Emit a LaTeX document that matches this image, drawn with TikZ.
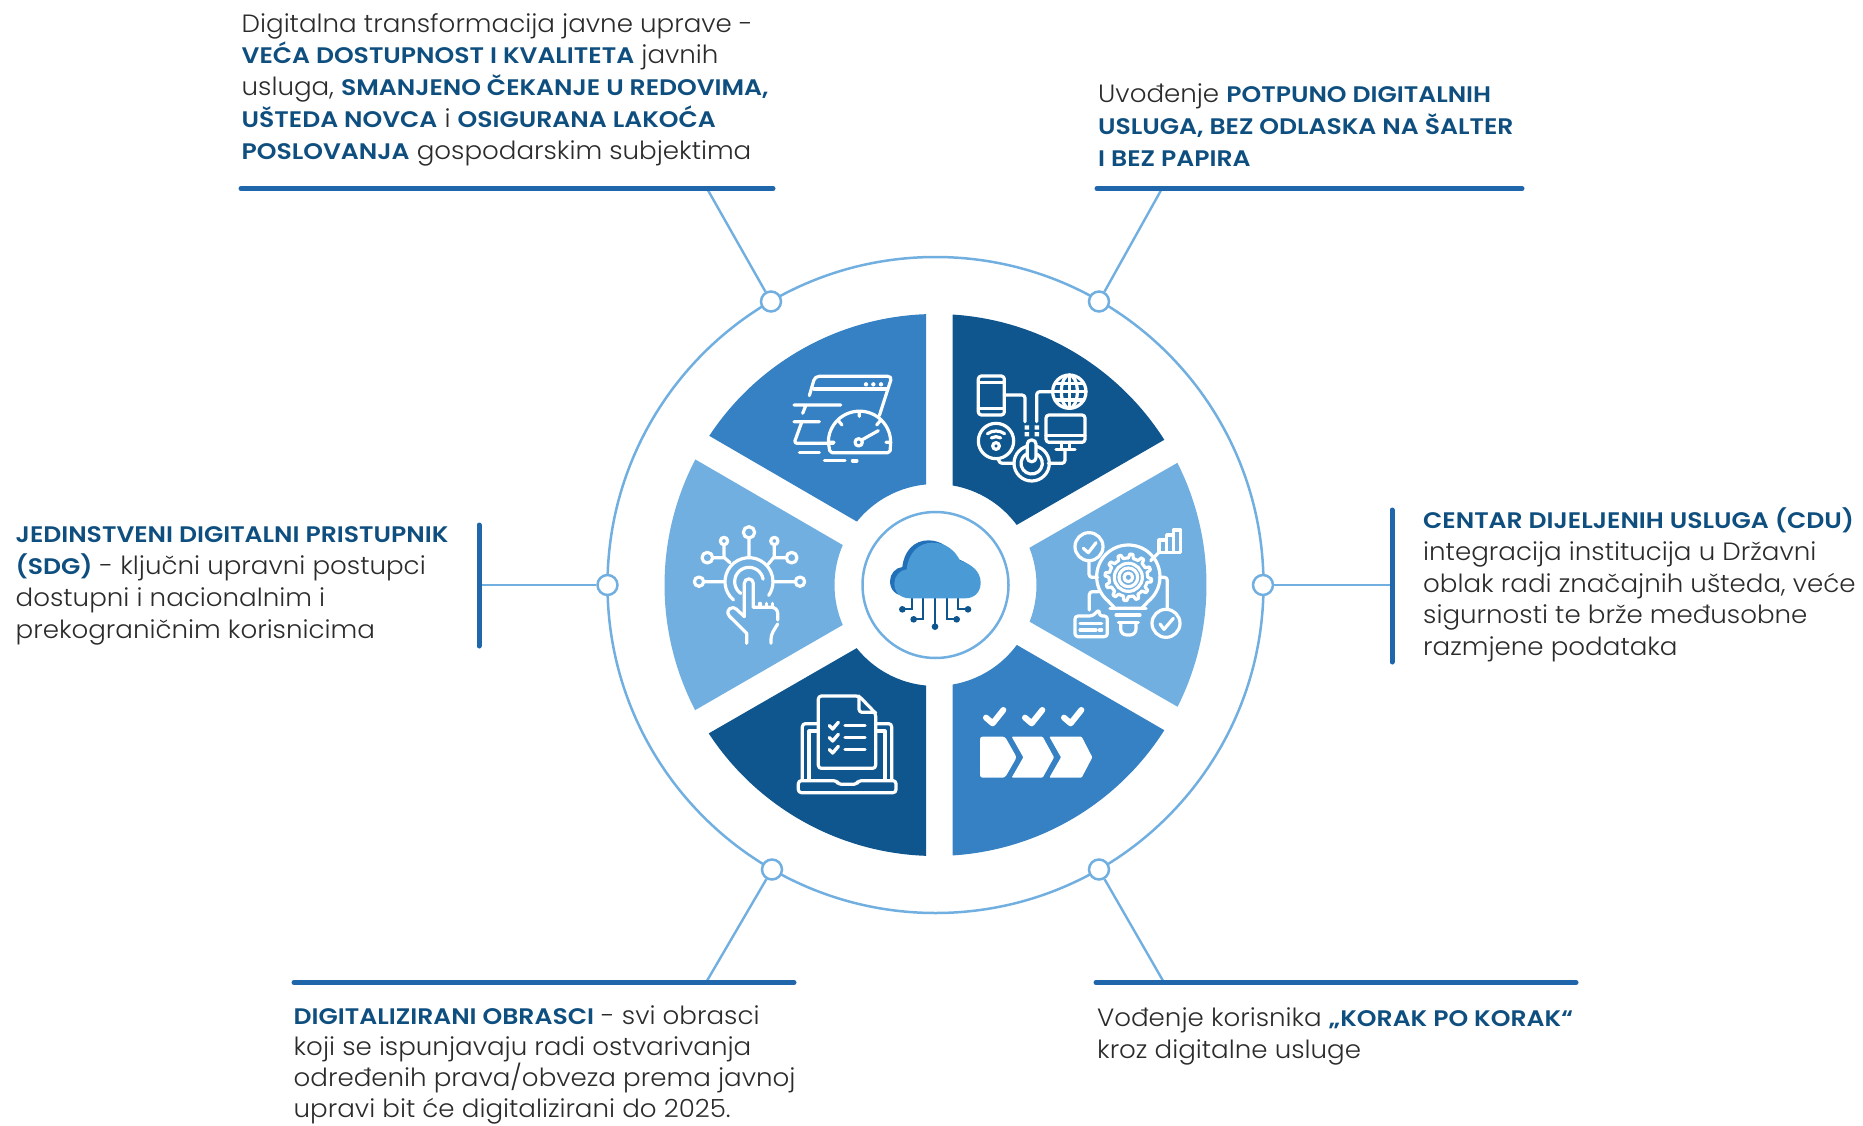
\documentclass[tikz,border=0pt]{standalone}
\usepackage{fontspec}
\setmainfont{Poppins}[UprightFont=* Light,BoldFont=* SemiBold,FakeStretch=1.045]
\newfontfamily\hlfont{Poppins SemiBold}[FakeStretch=1.115]
\usetikzlibrary{calc}
\definecolor{cdark}{HTML}{0F568F}
\definecolor{cmid}{HTML}{3581C4}
\definecolor{clight}{HTML}{71AFE0}
\definecolor{cbar}{HTML}{2066AA}
\definecolor{ctxt}{HTML}{2B2B2B}
\definecolor{chl}{HTML}{0F4F80}
\definecolor{ccloud}{HTML}{4A9AD6}
\definecolor{ccloudb}{HTML}{2271B8}
\newcommand{\hl}[1]{{\hlfont\fontsize{22.5}{32}\selectfont\color{chl}#1}}
\newcommand{\sectr}[5]{\fill[#1] ($(C)+(#2:271)$) arc[start angle=#2,end angle=#3,radius=271] -- ($(C)+(#4:101)$) arc[start angle=#4,end angle=#5,radius=101] -- cycle;}
\tikzset{
 ringdot/.style={circle,draw=clight,fill=white,line width=2.5pt,minimum size=20pt,inner sep=0pt},
 conn/.style={draw=clight,line width=2.4pt},
 barline/.style={draw=cbar,line width=5pt,line cap=round},
 para/.style={inner sep=0pt,anchor=north west,align=left,text=ctxt,font=\fontsize{25}{31.8}\selectfont},
 ico/.style={draw=white,line width=3.2pt,line cap=round,line join=round},
 zoomed/.style={x=0.33333pt,y=-0.33333pt},
 ckt/.style={draw=cdark,line width=2pt},
}
\begin{document}
\begin{tikzpicture}[x=1pt,y=-1pt]
\useasboundingbox (0,0) rectangle (1863,1126);
\coordinate (C) at (935.5,585);
% ring
\draw[clight,line width=2.5pt] (C) circle[radius=328];
% sectors
\sectr{cmid}{268}{213.4}{218.9}{264.7}
\sectr{cdark}{273.6}{327.6}{323.5}{279.7}
\sectr{clight}{333.2}{386.7}{381.3}{338.4}
\sectr{clight}{207.6}{152.5}{156.7}{203.3}
\sectr{cdark}{92}{146.8}{141.3}{95.4}
\sectr{cmid}{86.4}{32.4}{36.4}{80.2}
\draw[clight,line width=2.5pt] (C) circle[radius=73];
% bars
\coordinate (tl1) at (241,188.5); \coordinate (tl2) at (773,188.5); \coordinate (tlc) at (707,188.5);
\coordinate (tr1) at (1097,188.5); \coordinate (tr2) at (1522,188.5); \coordinate (trc) at (1162,188.5);
\coordinate (l1) at (479,525); \coordinate (l2) at (479,646); \coordinate (lc) at (479,585);
\coordinate (r1) at (1392,510); \coordinate (r2) at (1392,662); \coordinate (rc) at (1392,585);
\coordinate (bl1) at (294,982.5); \coordinate (bl2) at (794,982.5); \coordinate (blc) at (706,982.5);
\coordinate (br1) at (1096,982.5); \coordinate (br2) at (1576,982.5); \coordinate (brc) at (1164,982.5);
\node[ringdot] (ntl) at (771,301.5) {};
\node[ringdot] (ntr) at (1099,301.5) {};
\node[ringdot] (nl) at (607.5,585) {};
\node[ringdot] (nr) at (1263,585) {};
\node[ringdot] (nbl) at (772,869.5) {};
\node[ringdot] (nbr) at (1099,869.5) {};
\draw[conn] (ntl) -- (tlc);
\draw[conn] (ntr) -- (trc);
\draw[conn] (nl) -- (lc);
\draw[conn] (nr) -- (rc);
\draw[conn] (nbl) -- (blc);
\draw[conn] (nbr) -- (brc);
\draw[barline] (tl1) -- (tl2);
\draw[barline] (tr1) -- (tr2);
\draw[barline] (l1) -- (l2);
\draw[barline] (r1) -- (r2);
\draw[barline] (bl1) -- (bl2);
\draw[barline] (br1) -- (br2);
% texts
\node[para] (ttl) at (241.5,13) {Digitalna transformacija javne uprave -\\\hl{VEĆA DOSTUPNOST I KVALITETA} javnih\\usluga, \hl{SMANJENO ČEKANJE U REDOVIMA,}\\\hl{UŠTEDA NOVCA} i \hl{OSIGURANA LAKOĆA}\\\hl{POSLOVANJA} gospodarskim subjektima};
\node[para] (ttr) at (1098,83.5) {Uvođenje \hl{POTPUNO DIGITALNIH}\\\hl{USLUGA, BEZ ODLASKA NA ŠALTER}\\\hl{I BEZ PAPIRA}};
\node[para] (tl) at (15.5,526.5) {\hl{JEDINSTVENI DIGITALNI PRISTUPNIK}\\\hl{(SDG)} - ključni upravni postupci\\dostupni i nacionalnim i\\prekograničnim korisnicima};
\node[para] (tr) at (1423,507.5) {\hl{CENTAR DIJELJENIH USLUGA (CDU)}\\integracija institucija u Državni\\oblak radi značajnih ušteda, veće\\sigurnosti te brže međusobne\\razmjene podataka};
\node[para,font=\fontsize{25}{31}\selectfont] (tbl) at (293.5,1005.5) {\hl{DIGITALIZIRANI OBRASCI} - svi obrasci\\koji se ispunjavaju radi ostvarivanja\\određenih prava/obveza prema javnoj\\upravi bit će digitalizirani do 2025.};
\node[para] (tbr) at (1097,1007.5) {Vođenje korisnika \hl{„KORAK PO KORAK“}\\kroz digitalne usluge};
% icon 1: speed
\begin{scope}[shift={(780,365)},zoomed,ico]
\draw[rounded corners=4pt] (88,92)--(105,34)--(336,34)--(298,152);
\draw (102,72)--(322,72);
\fill[white] (258,58) circle[radius=6.5] (280,58) circle[radius=6.5] (303,58) circle[radius=6.5];
\draw (42,120)--(182,120) (78,120)--(68,145) (42,170)--(118,170);
\draw[rounded corners=3pt] (65,172)--(42,235)--(160,235);
\draw (58,262)--(118,262) (133,287)--(195,287);
\draw[line width=3.8pt] (218,287)--(230,287);
\draw[rounded corners=2pt] (145,232) arc[start angle=180,end angle=360,radius=93.5] (332,232)--(330,263)--(150,263)--(145,232);
\draw (238,140)--(238,154) (176,168)--(186,180) (300,168)--(290,180) (148,232)--(162,232) (318,232)--(332,232);
\draw (236,232) circle[radius=11];
\draw (245,225)--(295,197);
\end{scope}
% icon 2: network
\begin{scope}[shift={(970,365)},zoomed,ico]
\draw[rounded corners=3pt] (25,33) rectangle (103,150);
\draw (25,52)--(103,52) (25,130)--(103,130);
\draw[rounded corners=3pt] (103,90)--(165,90)--(165,170);
\draw[rounded corners=3pt] (200,170)--(200,80)--(248,80);
\draw (298,80) circle[radius=50];
\draw (298,80) ellipse[x radius=24,y radius=50];
\draw (298,30)--(298,130) (255,55)--(341,55) (248,80)--(348,80) (255,105)--(341,105);
\fill[white] (164,181) rectangle (177,194) (194,181) rectangle (207,194) (164,201) rectangle (177,214) (194,201) rectangle (207,214);
\draw[rounded corners=3pt] (228,150) rectangle (345,232);
\draw (228,212)--(345,212);
\draw (275,232)--(275,253) (298,232)--(298,253) (258,253)--(315,253);
\draw[rounded corners=3pt] (285,255)--(285,295)--(235,295);
\draw (78,228) circle[radius=53];
\draw (78,243) circle[radius=10];
\draw (78,243) ++(240:28) arc[start angle=240,end angle=300,radius=28];
\draw (78,243) ++(235:45) arc[start angle=235,end angle=305,radius=45];
\draw[rounded corners=3pt] (85,281)--(88,295)--(132,295);
\draw (185,295) circle[radius=53];
\draw (185,295) ++(300:32) arc[start angle=300,end angle=600,radius=32];
\draw[fill=cdark,rounded corners=4pt] (172,225) rectangle (198,290);
\end{scope}
% icon 3: bulb
\begin{scope}[shift={(1060,520)},zoomed,ico]
\draw (87,80) circle[radius=42];
\draw (70,85)--(85,98)--(108,68);
\draw (297,60)--(297,97)--(362,97)--(362,30)--(340,30)--(340,45)--(320,45)--(320,60)--cycle (320,60)--(320,97) (340,45)--(340,97);
\draw (297,97)--(272,122);
\draw (205,170) ++(128:95) arc[start angle=128,end angle=412,radius=95];
\draw (146,245)--(165,265)--(245,265)--(264,245);
\draw (150,265)--(258,265) (168,285)--(240,285) (175,308)--(235,308);
\draw[rounded corners=6pt] (182,308)--(182,345)--(228,345)--(228,308);
\begin{scope}[shift={(205,172)}]
\draw plot[domain=0:360,samples=97] (\x:{64+6*(sin(12*\x)>0?1:-1)});
\draw (0,0) circle[radius=42] (0,0) circle[radius=28] (0,0) circle[radius=13];
\end{scope}
\draw[rounded corners=3pt] (87,122)--(87,172)--(112,172);
\draw[rounded corners=3pt] (115,215)--(88,215)--(88,270);
\draw[rounded corners=3pt] (298,172)--(322,172)--(322,268);
\draw (318,310) circle[radius=42];
\draw (300,312)--(312,328)--(340,295);
\draw[rounded corners=3pt] (45,288)--(98,288)--(118,268)--(118,288)--(142,288)--(142,350)--(45,350)--cycle;
\draw (60,310)--(125,310) (60,330)--(108,330) (118,330)--(125,330);
\end{scope}
% icon 4: touch
\begin{scope}[shift={(685,520)},zoomed,ico]
\draw (192,37) circle[radius=17] (117,63) circle[radius=11] (268,63) circle[radius=11] (67,113) circle[radius=16] (320,113) circle[radius=16] (42,185) circle[radius=14] (345,185) circle[radius=14];
\draw (192,54)--(192,110) (117,74)--(117,112)--(135,128) (268,74)--(268,110)--(250,132) (83,113)--(117,113) (304,113)--(268,113) (56,185)--(118,185) (331,185)--(268,185);
\draw (192,185) ++(130:72) arc[start angle=130,end angle=360,radius=72];
\draw (192,185) ++(0:72) arc[start angle=0,end angle=35,radius=72];
\draw (192,185) ++(125:43) arc[start angle=125,end angle=350,radius=43];
\draw (178,290)--(178,190) arc[start angle=180,end angle=360,radius=13.5] --(205,262);
\draw[rounded corners=6pt] (205,262)--(278,262)--(278,300);
\draw (225,250)--(225,262) (245,250)--(245,262) (262,250)--(262,262);
\draw (178,290)--(155,268) arc[start angle=320,end angle=130,radius=15] --(185,340)--(185,370);
\draw[rounded corners=4pt] (278,312)--(258,345)--(258,370);
\end{scope}
% icon 5: document
\begin{scope}[shift={(785,685)},zoomed,ico]
\draw[rounded corners=3pt] (222,33)--(100,33)--(100,250)--(272,250)--(272,85)--cycle;
\draw[rounded corners=3pt] (222,33)--(222,82)--(272,82);
\foreach \yy in {0,36,72}{\draw[line width=3.4pt] (133,{122+\yy})--(143,{132+\yy})--(160,{112+\yy});
 \draw (180,{122+\yy})--(240,{122+\yy});}
\draw[rounded corners=3pt] (100,116)--(52,116)--(52,285);
\draw[rounded corners=3pt] (272,116)--(320,116)--(320,285);
\draw (100,138)--(72,138)--(72,285);
\draw (272,138)--(300,138)--(300,285);
\draw[rounded corners=3pt] (40,287)--(155,287)--(160,298)--(215,298)--(220,287)--(333,287)--(333,323)--(40,323)--cycle;
\end{scope}
% icon 6: steps
\begin{scope}[shift={(970,695)},zoomed]
\foreach \xx in {0,117,234}{\draw[white,line width=6pt,line cap=round,line join=round] ({48+\xx},68)--({68+\xx},85)--({100+\xx},45);}
\fill[white,rounded corners=2.5pt] (30,125)--(105,125)--(140,187)--(105,248)--(30,248)--cycle;
\fill[white,rounded corners=1pt] (125,125)--(218,125)--(252,187)--(218,248)--(125,248)--(160,187)--cycle;
\fill[white,rounded corners=1pt] (238,125)--(335,125)--(367,187)--(335,248)--(238,248)--(273,187)--cycle;
\end{scope}
% cloud
\begin{scope}[shift={(880,530)},zoomed]
\draw[ckt] (97,205)--(97,238)--(67,238) (130,205)--(130,268)--(101,268) (165,205)--(165,290) (200,205)--(200,268)--(230,268) (234,205)--(234,238)--(264,238);
\fill[cdark] (67,238) circle[radius=10] (101,268) circle[radius=10] (165,290) circle[radius=10] (230,268) circle[radius=10] (264,238) circle[radius=10];
\fill[ccloudb,shift={(-13,-7)}] (90,205) -- (255,205) .. controls (285,205) and (302,185) .. (302,158) .. controls (302,125) and (275,102) .. (240,92) .. controls (225,60) and (195,38) .. (158,38) .. controls (115,38) and (85,70) .. (80,118) .. controls (60,120) and (43,138) .. (43,160) .. controls (43,188) and (62,205) .. (90,205);
\fill[ccloud] (90,205) -- (255,205) .. controls (285,205) and (302,185) .. (302,158) .. controls (302,125) and (275,102) .. (240,92) .. controls (225,60) and (195,38) .. (158,38) .. controls (115,38) and (85,70) .. (80,118) .. controls (60,120) and (43,138) .. (43,160) .. controls (43,188) and (62,205) .. (90,205);
\end{scope}
\end{tikzpicture}
\end{document}
